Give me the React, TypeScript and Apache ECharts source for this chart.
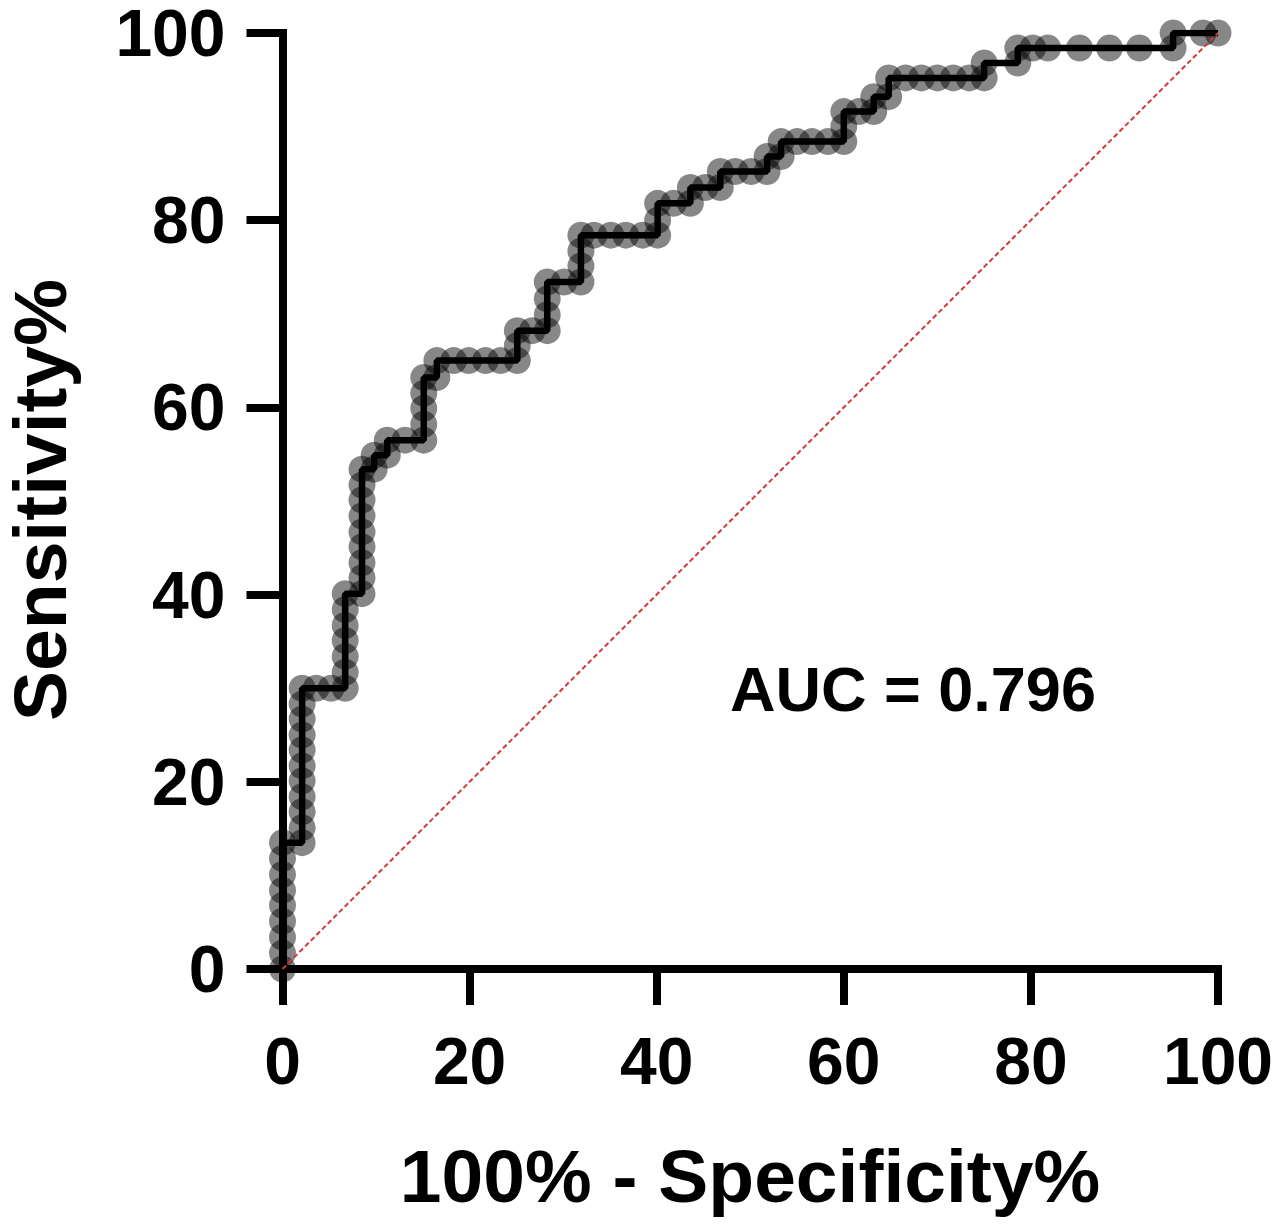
import React, { useEffect, useRef } from "react";
import * as echarts from "echarts";

// 100% - Specificity% (x) and Sensitivity% (y) of each ROC point
const fpr = [
  0, 0, 0, 0, 0, 0, 0, 0, 0,
  2.1, 2.1, 2.1, 2.1, 2.1, 2.1, 2.1, 2.1, 2.1, 2.1, 2.1,
  3.6, 5.2, 6.7, 6.7, 6.7, 6.7, 6.7, 6.7, 6.7,
  8.5, 8.5, 8.5, 8.5, 8.5, 8.5, 8.5, 8.5, 8.5,
  9.8, 9.8, 11.2, 11.2, 13.1, 15.1, 15.1, 15.1, 15.1, 15.1,
  16.5, 16.5, 18.3, 19.9, 21.7, 23.3, 25.1, 25.1, 25.1,
  26.7, 28.3, 28.3, 28.3, 28.3, 30.1, 31.9, 31.9, 31.9, 31.9,
  33.3, 35.1, 36.7, 38.5, 40.1, 40.1, 40.1,
  41.8, 43.6, 43.6, 45.2, 46.8, 46.8, 48.4, 50.1, 51.8, 51.8,
  53.3, 53.3, 55.0, 56.6, 58.3, 60.0, 60.0, 60.0,
  61.6, 63.2, 63.2, 64.8, 64.8,
  66.6, 68.3, 70.0, 71.7, 73.4, 75.0, 75.0,
  78.6, 78.6, 80.2, 81.8, 85.2, 88.4, 91.6, 95.2, 95.2, 98.4, 100,
];
const tpr = [
  0, 1.7, 3.4, 5.1, 6.8, 8.4, 10.1, 11.8, 13.5,
  13.5, 15.1, 16.8, 18.4, 20.1, 21.7, 23.4, 25.0, 26.7, 28.3, 30.0,
  30.0, 30.0, 30.0, 31.7, 33.4, 35.1, 36.7, 38.4, 40.1,
  40.1, 41.8, 43.4, 45.1, 46.7, 48.4, 50.1, 51.7, 53.4,
  53.4, 54.9, 54.9, 56.5, 56.5, 56.5, 58.2, 59.9, 61.5, 63.2,
  63.2, 65.0, 65.0, 65.0, 65.0, 65.0, 65.0, 66.6, 68.2,
  68.2, 68.2, 69.9, 71.6, 73.4, 73.4, 73.4, 75.1, 76.7, 78.4,
  78.4, 78.4, 78.4, 78.4, 78.4, 80.0, 81.8,
  81.8, 81.8, 83.5, 83.5, 83.5, 85.2, 85.2, 85.2, 85.2, 86.8,
  86.8, 88.4, 88.4, 88.4, 88.4, 88.4, 90.0, 91.6,
  91.6, 91.6, 93.2, 93.2, 95.2,
  95.2, 95.2, 95.2, 95.2, 95.2, 95.2, 96.8,
  96.8, 98.4, 98.4, 98.4, 98.4, 98.4, 98.4, 98.4, 100, 100, 100,
];
const referenceLine = [
  [0, 0],
  [100, 100],
];
const xTicks = [0, 20, 40, 60, 80, 100];
const yTicks = [0, 20, 40, 60, 80, 100];
const xTitle = "100% - Specificity%";
const yTitle = "Sensitivity%";
const aucLabel = "AUC = 0.796";

const FONT = '"Liberation Sans", Arial, Helvetica, sans-serif';

export default function App() {
  const ref = useRef<HTMLDivElement>(null);
  useEffect(() => {
    if (!ref.current) return;
    const chart = echarts.init(ref.current, undefined, { renderer: "svg" });
    const points = fpr.map((x, i) => [x, tpr[i]]);
    const axisCommon = {
      type: "value" as const,
      min: xTicks[0],
      max: xTicks[xTicks.length - 1],
      interval: xTicks[1] - xTicks[0],
      splitLine: { show: false },
      axisLine: { show: true, lineStyle: { color: "#000", width: 8, cap: "square" } },
      axisTick: { show: true, inside: false, length: 36, lineStyle: { color: "#000", width: 8 } },
    };
    chart.setOption({
      animation: false,
      backgroundColor: "#fff",
      grid: { left: 282.5, top: 32.5, width: 935.5, height: 936.5, containLabel: false },
      xAxis: {
        ...axisCommon,
        axisLabel: {
          color: "#000",
          fontFamily: FONT,
          fontWeight: "bold",
          fontSize: 66,
          lineHeight: 54,
          margin: 65,
        },
      },
      yAxis: {
        ...axisCommon,
        min: yTicks[0],
        max: yTicks[yTicks.length - 1],
        interval: yTicks[1] - yTicks[0],
        axisLabel: {
          color: "#000",
          fontFamily: FONT,
          fontWeight: "bold",
          fontSize: 66,
          lineHeight: 54,
          margin: 57,
        },
      },
      series: [
        {
          type: "scatter",
          data: points,
          symbol: "circle",
          symbolSize: 27,
          itemStyle: { color: "rgba(0,0,0,0.59)" },
          z: 2,
          silent: true,
        },
        {
          type: "line",
          data: points,
          showSymbol: false,
          symbol: "none",
          lineStyle: { color: "#000", width: 6.5 },
          z: 3,
          silent: true,
        },
        {
          type: "line",
          data: referenceLine,
          showSymbol: false,
          symbol: "none",
          lineStyle: { color: "#cf3a3f", width: 2, type: [5, 3] },
          z: 4,
          silent: true,
        },
      ],
      graphic: [
        {
          type: "text",
          x: 40,
          y: 500,
          rotation: Math.PI / 2,
          style: {
            text: yTitle,
            fill: "#000",
            font: `bold 75px ${FONT}`,
            textAlign: "center",
            textVerticalAlign: "middle",
          },
        },
        {
          type: "text",
          x: 750,
          y: 1176,
          style: {
            text: xTitle,
            fill: "#000",
            font: `bold 75px ${FONT}`,
            textAlign: "center",
            textVerticalAlign: "middle",
          },
        },
        {
          type: "text",
          x: 730,
          y: 689,
          style: {
            text: aucLabel,
            fill: "#000",
            font: `bold 63px ${FONT}`,
            textAlign: "left",
            textVerticalAlign: "middle",
          },
        },
      ],
    });
    return () => chart.dispose();
  }, []);
  return (
    <div
      ref={ref}
      style={{ position: "absolute", left: 0, top: 0, width: 1283, height: 1226 }}
    />
  );
}
